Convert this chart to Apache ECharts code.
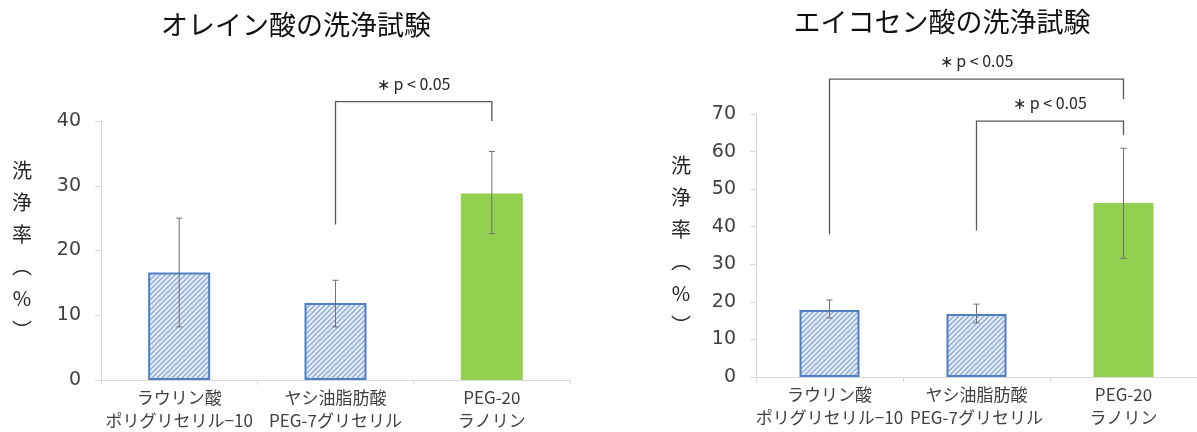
<!DOCTYPE html>
<html>
<head>
<meta charset="utf-8">
<script src="https://cdn.jsdelivr.net/npm/echarts@6/dist/echarts.min.js"></script>
<style>
html,body{margin:0;padding:0;background:#fff;}
#c{width:1197px;height:432px;}
</style>
</head>
<body>
<div id="c"></div>
<script>
// ---- data ----
const titles = ['オレイン酸の洗浄試験', 'エイコセン酸の洗浄試験'];
const categories = ['ラウリン酸\nポリグリセリル−10', 'ヤシ油脂肪酸\nPEG-7グリセリル', 'PEG-20\nラノリン'];
const yAxisName = '洗浄率（%）';
// Oleic acid
const oleicValues = [16.6, 11.9, 28.8];
const oleicErrLow = [8.2, 8.2, 22.6];
const oleicErrHigh = [25.0, 15.4, 35.3];
const oleicMax = 40;
// [fromIndex, toIndex, barTop, fromLegEnd, toLegEnd]
const oleicBrackets = [[1, 2, 43.0, 24.0, 40.0]];
// Eicosenoic acid
const eicoValues = [17.8, 16.8, 46.3];
const eicoErrLow = [15.7, 14.4, 31.6];
const eicoErrHigh = [20.5, 19.4, 60.9];
const eicoMax = 70;
const eicoBrackets = [[0, 2, 79.3, 38.0, 73.9], [1, 2, 68.1, 39.0, 64.4]];
const sigLabel = '∗ p < 0.05';
const tickInterval = 10;

// ---- styles ----
const FONT = '"Noto Sans CJK JP", "Noto Sans", sans-serif';
const NUMFONT = '"DejaVu Sans", "Noto Sans CJK JP", sans-serif';
function hatch() {
  const c = document.createElement('canvas');
  c.width = 5; c.height = 5;
  const ctx = c.getContext('2d');
  ctx.fillStyle = '#e3ebf6';
  ctx.fillRect(0, 0, 5, 5);
  ctx.strokeStyle = '#7c9bd1';
  ctx.lineWidth = 1.1;
  ctx.beginPath();
  ctx.moveTo(0, 5); ctx.lineTo(5, 0);
  ctx.moveTo(-1, 1); ctx.lineTo(1, -1);
  ctx.moveTo(4, 6); ctx.lineTo(6, 4);
  ctx.stroke();
  return c;
}
const hatchPattern = {image: hatch(), repeat: 'repeat'};
const blueBorder = '#4f7fc0';
const green = '#92d050';

function barData(vals) {
  return vals.map((v, i) => i < 2
    ? {value: v, itemStyle: {color: hatchPattern, borderColor: blueBorder, borderWidth: 2}}
    : {value: v, itemStyle: {color: green, borderWidth: 0}});
}
function errData(lo, hi) { return lo.map((l, i) => [i, l, hi[i]]); }

function errRender(params, api) {
  const x = api.value(0);
  const p1 = api.coord([x, api.value(1)]);
  const p2 = api.coord([x, api.value(2)]);
  const cap = 3;
  const st = {stroke: '#707070', lineWidth: 1};
  return {type: 'group', children: [
    {type: 'line', shape: {x1: p1[0], y1: p1[1], x2: p2[0], y2: p2[1]}, style: st},
    {type: 'line', shape: {x1: p1[0]-cap, y1: p1[1], x2: p1[0]+cap, y2: p1[1]}, style: st},
    {type: 'line', shape: {x1: p2[0]-cap, y1: p2[1], x2: p2[0]+cap, y2: p2[1]}, style: st}
  ]};
}
function bracketRender(params, api) {
  const a = api.value(0), b = api.value(1);
  const top = api.value(2);
  const pa = api.coord([a, api.value(3)]);
  const pb = api.coord([b, api.value(4)]);
  const ta = api.coord([a, top]);
  const tb = api.coord([b, top]);
  const st = {stroke: '#595959', lineWidth: 1.3, fill: null};
  return {type: 'group', children: [
    {type: 'polyline', shape: {points: [pa, ta, tb, pb]}, style: st},
    {type: 'text', x: (ta[0] + tb[0]) / 2, y: ta[1] - 18,
     style: {text: sigLabel, font: '16px ' + FONT, fill: '#262626', align: 'center', verticalAlign: 'middle'}}
  ]};
}

function xAxisCfg(gi) {
  return {
    type: 'category', gridIndex: gi, data: categories,
    axisLine: {lineStyle: {color: '#d9d9d9', width: 1}},
    axisTick: {show: true, length: 5, lineStyle: {color: '#d9d9d9'}},
    axisLabel: {interval: 0, color: '#404040', fontSize: 17, fontFamily: FONT, lineHeight: 23, margin: 6}
  };
}
function yAxisCfg(gi, max, gap) {
  return {
    type: 'value', gridIndex: gi, min: 0, max: max, interval: tickInterval,
    name: yAxisName.split('').map(ch => ch === '（' ? '︵' : ch === '）' ? '︶' : ch).join('\n'),
    nameLocation: 'middle', nameRotate: 0, nameGap: gap,
    nameTextStyle: {color: '#262626', fontSize: 20, fontFamily: FONT, lineHeight: 32, align: 'center', verticalAlign: 'middle', padding: [0, 0, 16, 0]},
    axisLine: {show: true, lineStyle: {color: '#d9d9d9', width: 1}},
    axisTick: {show: true, length: 6, lineStyle: {color: '#d9d9d9'}},
    axisLabel: {color: '#404040', fontSize: 19, fontFamily: NUMFONT, margin: 20},
    splitLine: {show: false}
  };
}

const chart = echarts.init(document.getElementById('c'));
chart.setOption({
  animation: false,
  backgroundColor: '#fff',
  title: [
    {text: titles[0], left: 291, top: 6, textAlign: 'center', textStyle: {fontSize: 27, fontWeight: 'normal', color: '#111', fontFamily: FONT}},
    {text: titles[1], left: 937, top: 3, textAlign: 'center', textStyle: {fontSize: 27, fontWeight: 'normal', color: '#111', fontFamily: FONT}}
  ],
  grid: [
    {left: 101, top: 121, width: 469, bottom: 49},
    {left: 756, top: 114, width: 444, bottom: 55}
  ],
  xAxis: [xAxisCfg(0), xAxisCfg(1)],
  yAxis: [yAxisCfg(0, oleicMax, 79), yAxisCfg(1, eicoMax, 75)],
  series: [
    {type: 'bar', xAxisIndex: 0, yAxisIndex: 0, barWidth: 62, data: barData(oleicValues)},
    {type: 'custom', xAxisIndex: 0, yAxisIndex: 0, renderItem: errRender, data: errData(oleicErrLow, oleicErrHigh), z: 5},
    {type: 'custom', xAxisIndex: 0, yAxisIndex: 0, renderItem: bracketRender, data: oleicBrackets, clip: false, z: 5},
    {type: 'bar', xAxisIndex: 1, yAxisIndex: 1, barWidth: 60, data: barData(eicoValues)},
    {type: 'custom', xAxisIndex: 1, yAxisIndex: 1, renderItem: errRender, data: errData(eicoErrLow, eicoErrHigh), z: 5},
    {type: 'custom', xAxisIndex: 1, yAxisIndex: 1, renderItem: bracketRender, data: eicoBrackets, clip: false, z: 5}
  ]
});
</script>
</body>
</html>
